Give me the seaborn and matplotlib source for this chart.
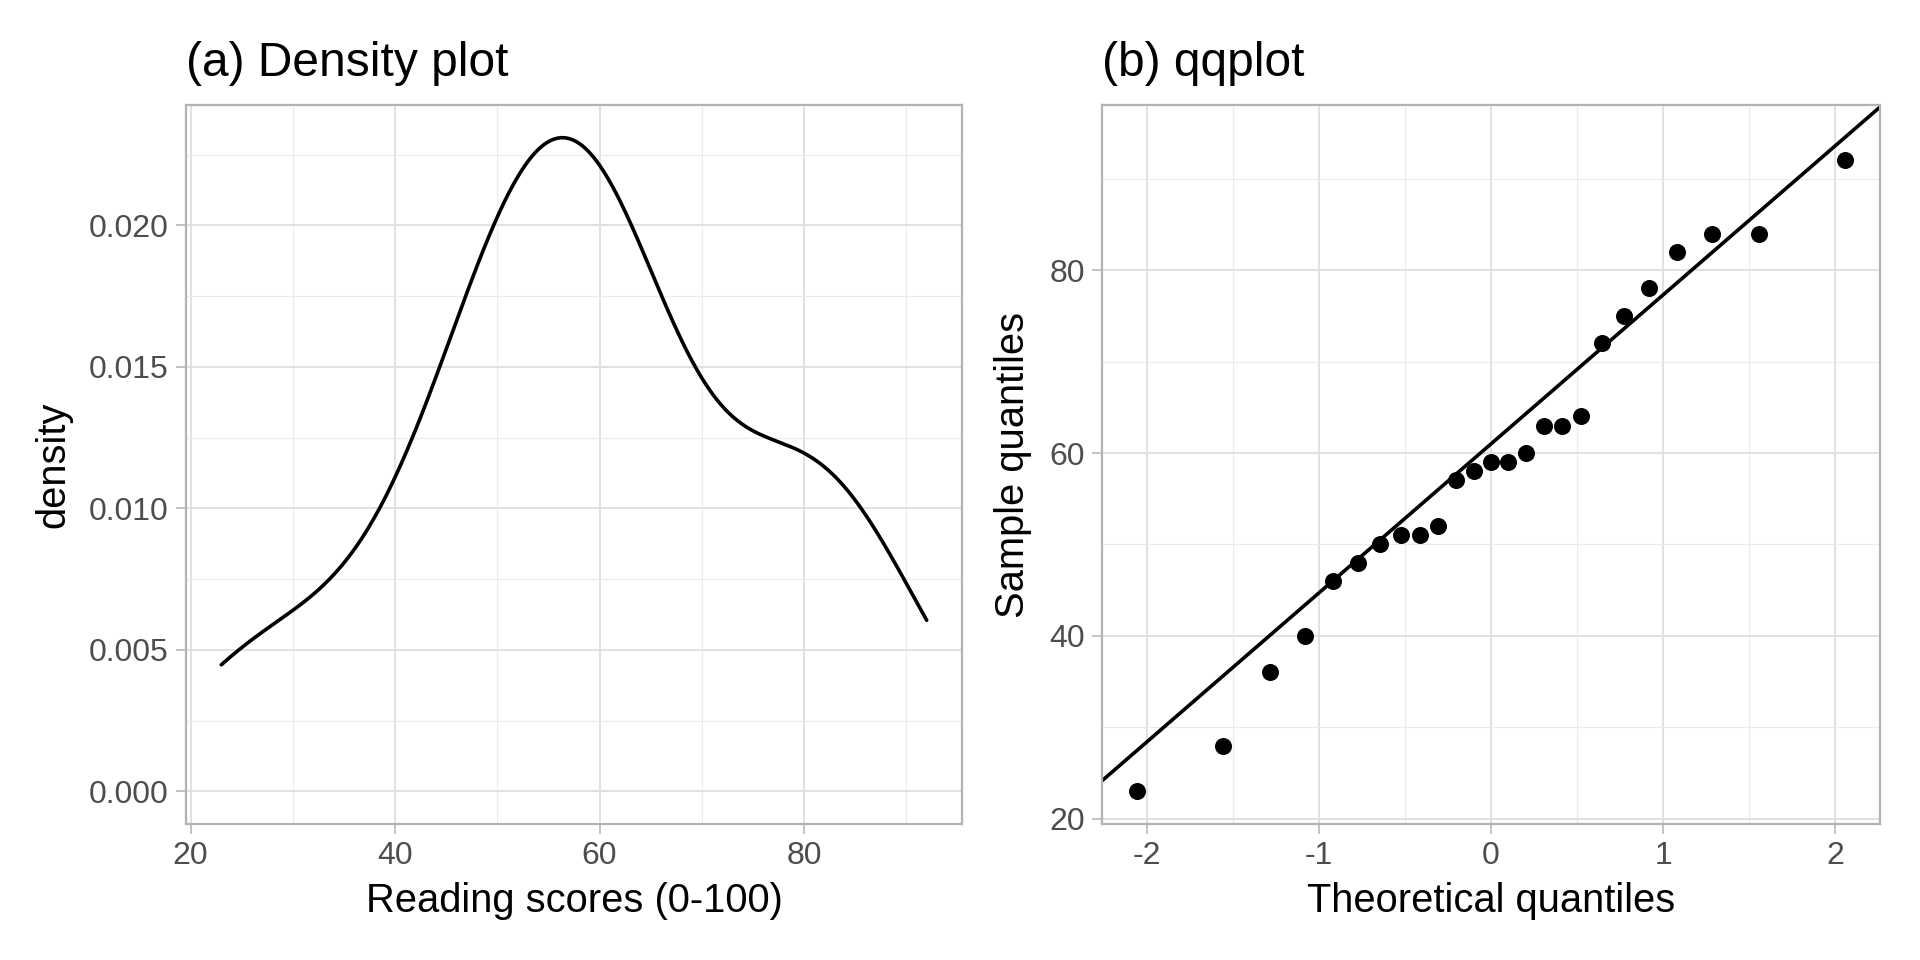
import matplotlib
matplotlib.use("Agg")
import numpy as np
import pandas as pd
import seaborn as sns
import matplotlib.pyplot as plt
from matplotlib.ticker import FixedLocator
from statistics import NormalDist

# ---- data ----
reading_scores = [23, 28, 36, 40, 46, 48, 50, 51, 51, 52, 57, 58, 59, 59, 60,
                  63, 63, 64, 72, 75, 78, 82, 84, 84, 92]
density_xticks = [20, 40, 60, 80]
density_yticks = [0.000, 0.005, 0.010, 0.015, 0.020]
density_ytick_labels = ["0.000", "0.005", "0.010", "0.015", "0.020"]
qq_xticks = [-2, -1, 0, 1, 2]
qq_yticks = [20, 40, 60, 80]

sns.set_theme(style="white")
plt.rcParams["font.family"] = ["Liberation Sans", "DejaVu Sans"]
plt.rcParams["axes.unicode_minus"] = False

scores = np.array(reading_scores, dtype=float)
n = len(scores)
sd = scores.std(ddof=1)
q25, q75 = np.percentile(scores, [25, 75])
bw = 0.9 * min(sd, (q75 - q25) / 1.34) * n ** -0.2   # R's bw.nrd0

# normal QQ values (R ppoints)
probs = (np.arange(1, n + 1) - 0.5) / n
theo = np.array([NormalDist().inv_cdf(p) for p in probs])
qq = pd.DataFrame({"theoretical": theo, "sample": np.sort(scores)})
zq25, zq75 = NormalDist().inv_cdf(0.25), NormalDist().inv_cdf(0.75)
slope = (q75 - q25) / (zq75 - zq25)
intercept = q25 - slope * zq25

W, H = 1920, 960
fig = plt.figure(figsize=(W / 100, H / 100), dpi=100)
ax1 = fig.add_axes([186 / W, (H - 824) / H, (962 - 186) / W, (824 - 105) / H])
ax2 = fig.add_axes([1102 / W, (H - 824) / H, (1880 - 1102) / W, (824 - 105) / H])

GRID_MAJ = "#DEDEDE"
BORDER = "#B3B3B3"
TICKTXT = "#4D4D4D"


def style(ax, xmaj, xmin, ymaj, ymin):
    ax.set_axisbelow(True)
    ax.xaxis.set_major_locator(FixedLocator(xmaj))
    ax.yaxis.set_major_locator(FixedLocator(ymaj))
    ax.xaxis.set_minor_locator(FixedLocator(xmin))
    ax.yaxis.set_minor_locator(FixedLocator(ymin))
    ax.grid(which="major", color=GRID_MAJ, linewidth=1.3)
    ax.grid(which="minor", color="#EBEBEB", linewidth=0.8)
    for s in ax.spines.values():
        s.set_color(BORDER)
        s.set_linewidth(1.6)
    ax.tick_params(which="major", length=7.5, width=1.1, color=BORDER,
                   labelsize=23, labelcolor=TICKTXT, pad=5, left=True, bottom=True)
    ax.tick_params(which="minor", length=0)


def expand(lo, hi, f=0.05):
    r = hi - lo
    return lo - f * r, hi + f * r


# ---- (a) density ----
sns.kdeplot(x=scores, ax=ax1, bw_method=bw / sd, cut=0, gridsize=512,
            color="black", linewidth=2.6)
ax1.set_xlim(*expand(scores.min(), scores.max()))
ymax = max(l.get_ydata().max() for l in ax1.get_lines())
ax1.set_ylim(*expand(0, ymax))
style(ax1, density_xticks, [30, 50, 70, 90], density_yticks,
      [0.0025, 0.0075, 0.0125, 0.0175, 0.0225])
ax1.set_yticklabels(density_ytick_labels)
ax1.set_xlabel("Reading scores (0-100)", fontsize=28.7, color="black", labelpad=8)
ax1.set_ylabel("density", fontsize=28.7, color="black", labelpad=12)
ax1.set_title("(a) Density plot", loc="left", fontsize=34.5, pad=21, color="black")

# ---- (b) qqplot ----
sns.scatterplot(data=qq, x="theoretical", y="sample", ax=ax2, color="black",
                s=150, linewidth=0, zorder=3)
ax2.axline((0, intercept), slope=slope, color="black", linewidth=2.6, zorder=2)
ax2.set_xlim(*expand(theo.min(), theo.max()))
line_lo = intercept + slope * theo.min()
line_hi = intercept + slope * theo.max()
ax2.set_ylim(*expand(min(scores.min(), line_lo), max(scores.max(), line_hi)))
style(ax2, qq_xticks, [-1.5, -0.5, 0.5, 1.5], qq_yticks, [30, 50, 70, 90])
ax2.set_xlabel("Theoretical quantiles", fontsize=28.7, color="black", labelpad=8)
ax2.set_ylabel("Sample quantiles", fontsize=28.7, color="black", labelpad=12)
ax2.set_title("(b) qqplot", loc="left", fontsize=34.5, pad=21, color="black")

fig.savefig("out.png", dpi=100, facecolor="white")
